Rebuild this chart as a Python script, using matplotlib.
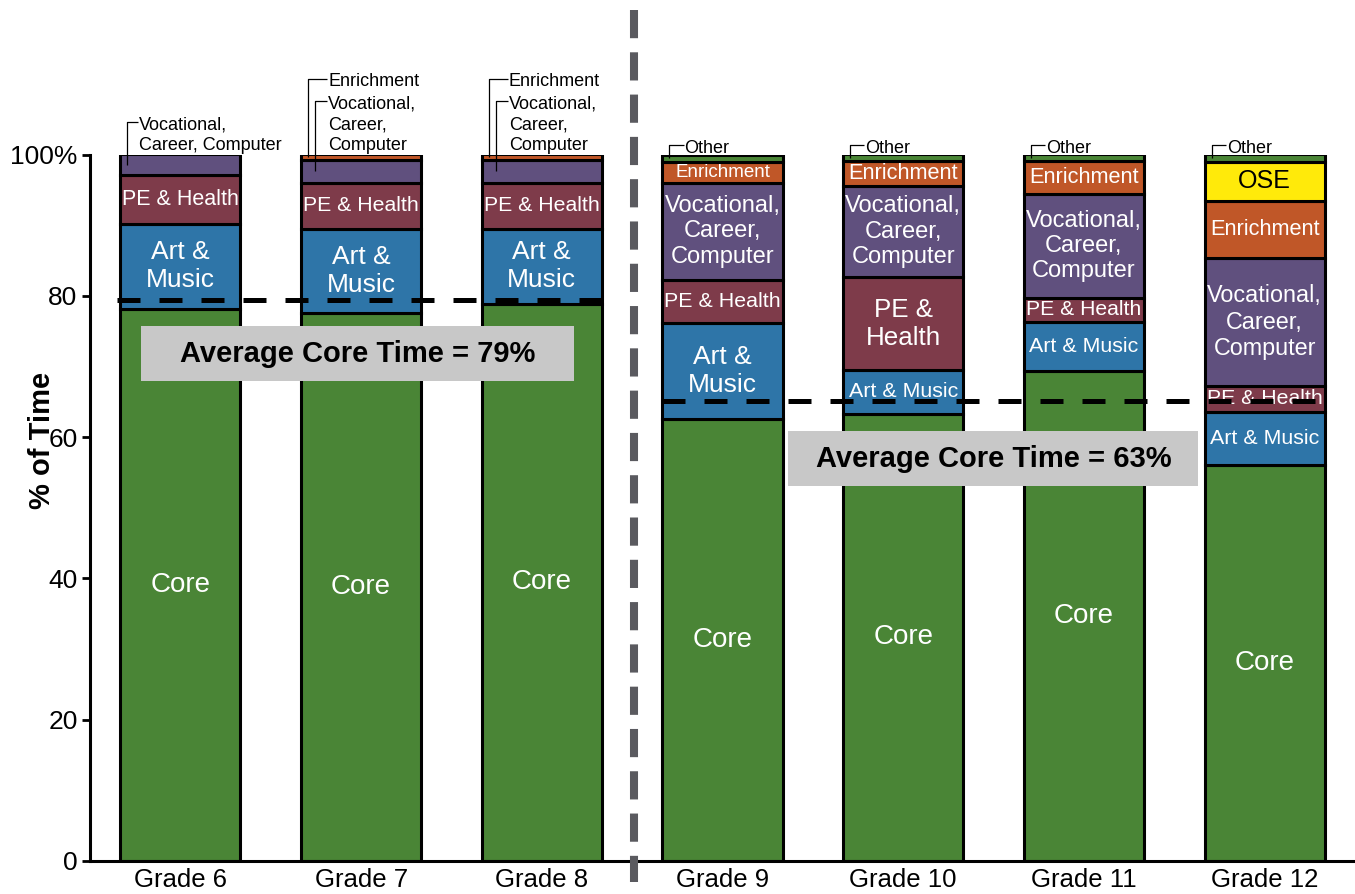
import matplotlib
matplotlib.use('Agg')
import matplotlib.pyplot as plt
from matplotlib.patches import Rectangle
import numpy as np

plt.rcParams['font.family'] = ['Liberation Sans', 'DejaVu Sans']

# ---------------- data ----------------
grades = ['Grade 6', 'Grade 7', 'Grade 8', 'Grade 9', 'Grade 10', 'Grade 11', 'Grade 12']
core   = [78.2, 77.6, 78.9, 62.5, 63.3, 69.3, 56.1]
art    = [12.0, 11.9, 10.6, 13.7, 6.2, 7.0, 7.5]
pe     = [6.9, 6.5, 6.5, 6.1, 13.1, 3.4, 3.6]
voc    = [2.9, 3.2, 3.2, 13.7, 12.9, 14.7, 18.1]
enrich = [0.0, 0.8, 0.8, 2.9, 3.65, 4.75, 8.1]
ose    = [0.0, 0.0, 0.0, 0.0, 0.0, 0.0, 5.6]
other  = [0.0, 0.0, 0.0, 1.1, 0.85, 0.85, 1.0]

avg_core_levels = [79.4, 65.1]
avg_labels = ['Average Core Time = 79%', 'Average Core Time = 63%']

yticks = [0, 20, 40, 60, 80, 100]
ytick_labels = ['0', '20', '40', '60', '80', '100%']

# in-bar labels
core_lbl   = ['Core'] * 7
art_lbl    = ['Art &\nMusic'] * 4 + ['Art & Music'] * 3
pe_lbl     = ['PE & Health'] * 4 + ['PE &\nHealth'] + ['PE & Health'] * 2
voc_lbl    = [None] * 3 + ['Vocational,\nCareer,\nComputer'] * 4
enrich_lbl = [None] * 3 + ['Enrichment'] * 4
ose_lbl    = [None] * 6 + ['OSE']
other_lbl  = [None] * 7

# ---------------- styles ----------------
core_fs   = [20, 20, 20, 20, 20, 20, 20]
art_fs    = [19, 19, 19, 19, 15.4, 15.4, 15.4]
pe_fs     = [15.5, 15.3, 15.3, 15.4, 18.7, 15.2, 15.3]
voc_fs    = [0, 0, 0, 17, 17, 17, 16.8]
enrich_fs = [0, 0, 0, 13.5, 15.7, 15.7, 15.7]
ose_fs    = [0, 0, 0, 0, 0, 0, 18]
other_fs  = [0] * 7

series = [
    ('Core', core, '#4a8536', core_lbl, core_fs, 'white'),
    ('Art & Music', art, '#2e75a8', art_lbl, art_fs, 'white'),
    ('PE & Health', pe, '#7e3b4a', pe_lbl, pe_fs, 'white'),
    ('Vocational', voc, '#60507e', voc_lbl, voc_fs, 'white'),
    ('Enrichment', enrich, '#c05728', enrich_lbl, enrich_fs, 'white'),
    ('OSE', ose, '#ffea0a', ose_lbl, ose_fs, 'black'),
    ('Other', other, '#4a8536', other_lbl, other_fs, 'white'),
]

W, H = 1355, 894
fig = plt.figure(figsize=(W / 100, H / 100), dpi=100)
ax = fig.add_axes([90 / W, (H - 861) / H, (W - 90) / W, (861 - 154.5) / H])

x = np.arange(len(grades))
bar_w = 0.665
bottoms = np.zeros(len(grades))
seg_mid = {}
for name, vals, color, lbls, fss, tcol in series:
    vals = np.array(vals, dtype=float)
    mask = vals > 0
    ax.bar(x[mask], vals[mask], bar_w, bottom=bottoms[mask], color=color,
           edgecolor='black', linewidth=2.2, zorder=2)
    seg_mid[name] = bottoms + vals / 2
    for i in range(len(grades)):
        if mask[i] and lbls[i]:
            ax.text(x[i], bottoms[i] + vals[i] / 2, lbls[i], ha='center', va='center',
                    color=tcol, fontsize=fss[i], linespacing=1.2, zorder=3)
    bottoms = bottoms + vals

# callouts above bars: (bar index, series name, text, leader x offset, leader y, text x offset)
callouts = [
    (0, 'Vocational', 'Vocational,\nCareer, Computer', -0.294, 104.6, -0.227),
    (1, 'Enrichment', 'Enrichment', -0.294, 110.7, -0.183),
    (1, 'Vocational', 'Vocational,\nCareer,\nComputer', -0.255, 107.6, -0.183),
    (2, 'Enrichment', 'Enrichment', -0.294, 110.7, -0.183),
    (2, 'Vocational', 'Vocational,\nCareer,\nComputer', -0.255, 107.6, -0.183),
    (3, 'Other', 'Other', -0.294, 101.3, -0.21),
    (4, 'Other', 'Other', -0.294, 101.3, -0.21),
    (5, 'Other', 'Other', -0.294, 101.3, -0.21),
    (6, 'Other', 'Other', -0.294, 101.3, -0.21),
]
for i, name, txt, lx, ly, tx in callouts:
    ybot = seg_mid[name][i]
    ax.plot([x[i] + lx, x[i] + lx, x[i] + tx - 0.005], [ybot, ly, ly], color='black',
            lw=0.9, clip_on=False, zorder=4, solid_capstyle='butt')
    ax.text(x[i] + tx, ly + 0.8, txt, ha='left', va='top', fontsize=13,
            linespacing=1.3, clip_on=False, zorder=4)

# average lines
ax.plot([-0.35, 2.335], [avg_core_levels[0]] * 2, color='black', lw=3.6,
        dashes=(4.6, 3.8), zorder=5, solid_capstyle='butt')
ax.plot([2.665, 6.34], [avg_core_levels[1]] * 2, color='black', lw=3.6,
        dashes=(4.6, 3.8), zorder=5, solid_capstyle='butt')

# boxes with average text
boxes = [(-0.216, 67.94, 2.393, 7.79, 0.98, 71.83),
         (3.363, 53.08, 2.266, 7.78, 4.5, 56.97)]
for (bx, by, bw, bh, tx, ty), lab in zip(boxes, avg_labels):
    ax.add_patch(Rectangle((bx, by), bw, bh, facecolor='#c8c8c8', edgecolor='none', zorder=6))
    ax.text(tx, ty, lab, ha='center', va='center', fontsize=21, fontweight='bold', zorder=7)

# vertical separator
ax.plot([2.51, 2.51], [120.5, -3.0], color='#5a5a5f', lw=5.8, dashes=(3.5, 1.75),
        clip_on=False, zorder=8, solid_capstyle='butt')

ax.set_xlim(-0.5, 6.5)
ax.set_ylim(0, 100)
ax.set_xticks(x)
ax.set_xticklabels(grades, fontsize=18.5)
ax.set_yticks(yticks)
ax.set_yticklabels(ytick_labels, fontsize=19)
ax.tick_params(axis='x', length=0, pad=5)
ax.tick_params(axis='y', length=6, width=2, pad=3)
for s in ['top', 'right']:
    ax.spines[s].set_visible(False)
for s in ['left', 'bottom']:
    ax.spines[s].set_linewidth(2.2)

fig.text(42 / W, 1 - 440 / H, '% of Time', rotation=90, ha='center', va='center',
         fontsize=21, fontweight='bold')

fig.savefig('out.png', dpi=100)
